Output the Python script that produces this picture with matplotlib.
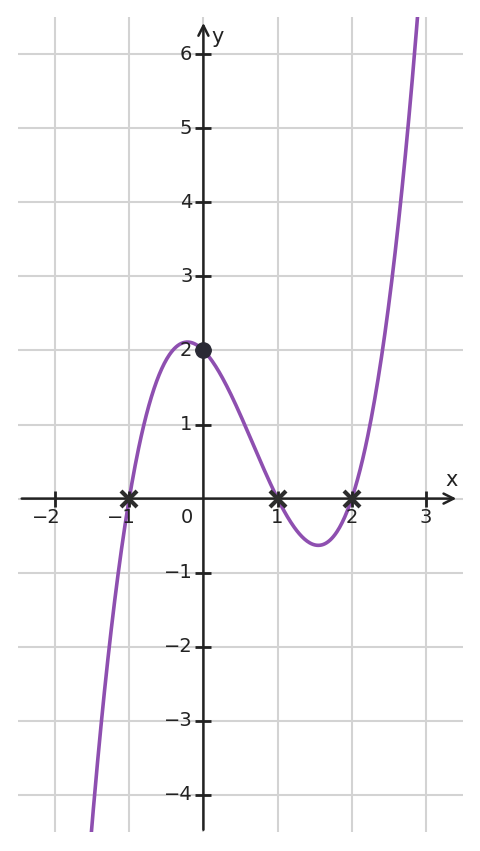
import numpy as np
import matplotlib
matplotlib.use("Agg")
import matplotlib.pyplot as plt
from matplotlib.transforms import offset_copy

# roots of the cubic and the y-intercept
roots = [-1, 1, 2]
y_intercept = (0, 2)
x_ticks = [-2, -1, 1, 2, 3]
y_ticks = [-4, -3, -2, -1, 1, 2, 3, 4, 5, 6]
x_range = (-2.5, 3.5)
y_range = (-4.5, 6.5)

ink = "#222222"
purple = "#8e4fb0"

fig = plt.figure(figsize=(4.8, 8.51), dpi=100)
ax = fig.add_axes([18 / 480, 19 / 851, 445 / 480, 815 / 851])
ax.set_xlim(*x_range)
ax.set_ylim(*y_range)
for s in ax.spines.values():
    s.set_visible(False)
ax.set_xticks([])
ax.set_yticks([])

# grid
for gx in range(-2, 4):
    ax.axvline(gx, color="#d3d3d3", lw=1.5, zorder=0)
for gy in range(-4, 7):
    ax.axhline(gy, color="#d3d3d3", lw=1.5, zorder=0)

# curve f(x) = (x+1)(x-1)(x-2)
xs = np.linspace(-1.6, 3.0, 400)
ys = (xs - roots[0]) * (xs - roots[1]) * (xs - roots[2])
ax.plot(xs, ys, color=purple, lw=2.6, zorder=3)

# axes with arrows
arr = dict(arrowstyle="->", color=ink, lw=1.8, shrinkA=0, shrinkB=0, mutation_scale=18)
ax.annotate("", xy=(3.41, 0), xytext=(-2.45, 0), arrowprops=arr, zorder=4)
ax.annotate("", xy=(0, 6.42), xytext=(0, -4.47), arrowprops=arr, zorder=4)

# tick marks
ax.plot(x_ticks, [0] * len(x_ticks), ls="none", marker="|", ms=12, mew=2, color=ink, zorder=4)
ax.plot([0] * len(y_ticks), y_ticks, ls="none", marker="_", ms=12, mew=2, color=ink, zorder=4)

# tick labels (digit centred under tick, minus hangs left)
tx = offset_copy(ax.transData, fig=fig, x=6, y=-19, units="dots")
for v in x_ticks:
    ax.text(v, 0, str(v).replace("-", "\u2212"), transform=tx, ha="right", va="center",
            fontsize=14, color=ink)
ty = offset_copy(ax.transData, fig=fig, x=-11, y=0, units="dots")
for v in y_ticks:
    ax.text(0, v, str(v).replace("-", "\u2212"), transform=ty, ha="right", va="center",
            fontsize=14, color=ink)
t0 = offset_copy(ax.transData, fig=fig, x=-10, y=-19, units="dots")
ax.text(0, 0, "0", transform=t0, ha="right", va="center", fontsize=14, color=ink)

# axis names
ax.text(3.34, 0.25, "x", ha="center", va="center", fontsize=15, color=ink)
ax.text(0.19, 6.23, "y", ha="center", va="center", fontsize=15, color=ink)

# roots and intercept
ax.plot(roots, [0] * len(roots), ls="none", marker="x", ms=12, mew=3, color="#2d2d2d", zorder=5)
ax.plot([y_intercept[0]], [y_intercept[1]], ls="none", marker="o", ms=11, color="#2a2a35", zorder=5)

fig.savefig("out.png", dpi=100)
